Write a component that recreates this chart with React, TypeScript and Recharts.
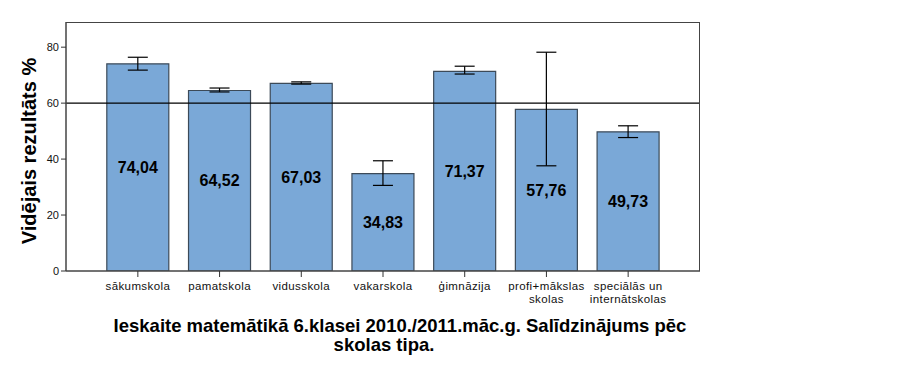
import React from 'react';
import { BarChart, Bar, XAxis, YAxis, ErrorBar, ReferenceLine, LabelList } from 'recharts';

const categories = [
  'sākumskola',
  'pamatskola',
  'vidusskola',
  'vakarskola',
  'ģimnāzija',
  'profi+mākslas\nskolas',
  'speciālās un\ninternātskolas',
];
const means = [74.04, 64.52, 67.03, 34.83, 71.37, 57.76, 49.73];
const lowerCI = [71.8, 64.0, 66.8, 30.6, 70.4, 37.6, 47.7];
const upperCI = [76.4, 65.4, 67.6, 39.4, 73.2, 78.2, 51.9];
const yTicks = [0, 20, 40, 60, 80];
const referenceValue = 60;
const yAxisTitle = 'Vidējais rezultāts %';
const titleLines = ['Ieskaite matemātikā 6.klasei 2010./2011.māc.g. Salīdzinājums pēc', 'skolas tipa.'];

const data = categories.map((c, i) => ({
  name: c,
  value: means[i],
  err: [means[i] - lowerCI[i], upperCI[i] - means[i]],
}));

const FONT = 'Arial, "Liberation Sans", sans-serif';

const XTick = (props: any) => {
  const { x, y, payload } = props;
  const lines = String(payload.value).split('\n');
  return (
    <g>
      {lines.map((l: string, i: number) => (
        <text
          key={i}
          x={x}
          y={y + 11 + i * 12.5}
          textAnchor="middle"
          fontSize={11.5}
          letterSpacing={0.4}
          fontFamily={FONT}
          fill="#111"
        >
          {l}
        </text>
      ))}
    </g>
  );
};

const titleCenters = [400, 384];

export default function App() {
  return (
    <div style={{ position: 'absolute', left: 0, top: 0, width: 922, height: 366, background: '#fff' }}>
      <BarChart
        width={922}
        height={366}
        data={data}
        margin={{ top: 22, right: 222, bottom: 55, left: 20 }}
        barCategoryGap="12%"
      >
        <XAxis
          dataKey="name"
          tick={<XTick />}
          tickLine={{ stroke: '#333' }}
          tickSize={6}
          axisLine={{ stroke: '#444', strokeWidth: 1.5 }}
          height={40}
          interval={0}
          padding={{ left: 31, right: 31 }}
        />
        <YAxis
          domain={[0, 89]}
          ticks={yTicks}
          width={46}
          tickSize={5}
          tickLine={{ stroke: '#333' }}
          axisLine={{ stroke: '#444', strokeWidth: 1.5 }}
          tick={{ fontSize: 11, fontFamily: FONT, fill: '#111' }}
          allowDataOverflow
        />
        <Bar dataKey="value" fill="#7aa8d7" stroke="#3c4a58" strokeWidth={1.2} isAnimationActive={false}>
          <ErrorBar dataKey="err" width={10} stroke="#000" strokeWidth={1.2} direction="y" />
          <LabelList
            dataKey="value"
            position="center"
            formatter={(v: any) => Number(v).toFixed(2).replace('.', ',')}
            style={{ fontSize: 16, fontWeight: 'bold', fontFamily: FONT, fill: '#000' }}
          />
        </Bar>
        <ReferenceLine y={referenceValue} stroke="#000" strokeWidth={1.2} />
      </BarChart>
      <div
        style={{
          position: 'absolute',
          left: 66,
          top: 22,
          width: 634,
          height: 249,
          boxSizing: 'border-box',
          borderTop: '1.5px solid #444',
          borderRight: '1.5px solid #444',
          pointerEvents: 'none',
        }}
      />
      <div
        style={{
          position: 'absolute',
          left: 29,
          top: 151,
          transform: 'translate(-50%, -50%) rotate(-90deg)',
          transformOrigin: 'center',
          whiteSpace: 'nowrap',
          fontFamily: FONT,
          fontWeight: 'bold',
          fontSize: 20,
          color: '#000',
        }}
      >
        {yAxisTitle}
      </div>
      {titleLines.map((t, i) => (
        <div
          key={i}
          style={{
            position: 'absolute',
            left: titleCenters[i],
            top: 316 + i * 19,
            transform: 'translateX(-50%)',
            whiteSpace: 'nowrap',
            fontFamily: FONT,
            fontWeight: 'bold',
            fontSize: 18.5,
            lineHeight: '19px',
            color: '#000',
          }}
        >
          {t}
        </div>
      ))}
    </div>
  );
}
